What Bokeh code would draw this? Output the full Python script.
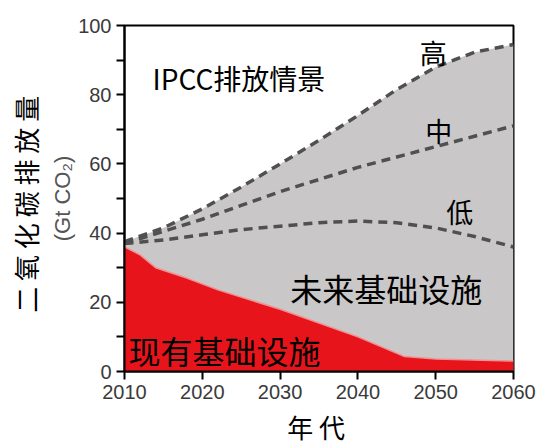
from bokeh.plotting import figure
from bokeh.models import LinearAxis, FixedTicker, Range1d
from bokeh.core.properties import value
from bokeh.embed import file_html
from bokeh.resources import INLINE

# IPCC emission scenarios (Gt CO2)
years = [2010, 2015, 2020, 2025, 2030, 2035, 2040, 2045, 2050, 2055, 2060]
high = [37.5, 41.5, 47, 53.3, 60, 66.8, 74, 81.5, 88, 92.3, 94.5]
mid = [37, 40.5, 44, 48, 52, 55.5, 59, 62, 65, 68, 71]
low = [37, 38, 39.5, 41, 42, 43, 43.5, 43, 41.5, 39, 36]

# committed emissions from existing infrastructure
existing_years = [2010, 2012, 2014, 2018, 2022, 2030, 2040, 2046, 2050, 2060]
existing = [36, 33.7, 30, 27, 23.6, 18, 10, 4.3, 3.6, 3]

x_ticks = [2010, 2020, 2030, 2040, 2050, 2060]
y_ticks = [0, 20, 40, 60, 80, 100]
y_minor = [10, 30, 50, 70, 90]

CJK = "Noto Sans CJK SC"
NUM = "Liberation Sans"
NBSP = "\u00a0"

p = figure(width=539, height=447, output_backend="svg", toolbar_location=None,
           x_range=Range1d(2010, 2060), y_range=Range1d(0, 100),
           min_border_left=124, min_border_right=26, min_border_top=25,
           min_border_bottom=75, background_fill_color="white",
           border_fill_color="white")
p.grid.visible = False
p.outline_line_color = "black"
p.outline_line_width = 2

# future infrastructure (grey) and existing infrastructure (red)
p.varea(x=years, y1=0, y2=high, fill_color="#c9c7c7")
p.varea(x=existing_years, y1=0, y2=existing, fill_color="#e8141c")
p.line(existing_years, existing, line_color="#f09090", line_width=1.5)

for series in (high, mid, low):
    p.line(years, series, line_color="#505050", line_width=3.5, line_dash="9 6")

def label(x, y, txt, size, align="center"):
    p.text(x=[x], y=[y], text=[txt], text_font=value(CJK), text_font_size=size,
           text_align=align, text_baseline="middle", text_color="black")

label(2013.6, 84.7, "IPCC排放情景", "28px", "left")
label(2049.7, 92.2, "高", "27px")
label(2050.4, 69.7, "中", "27px")
label(2053.1, 46.1, "低", "27px")
label(2031.3, 24.2, "未来基础设施", "32px", "left")
label(2010.5, 6.3, "现有基础设施", "32px", "left")

# axes
xa = p.xaxis[0]
xa.ticker = FixedTicker(ticks=x_ticks)
xa.axis_label = "年 代" + NBSP
xa.axis_label_text_font = CJK
xa.axis_label_text_font_size = "26px"
xa.axis_label_text_font_style = "normal"
xa.axis_label_text_color = "black"
xa.axis_label_standoff = 6

ya = p.yaxis[0]
ya.ticker = FixedTicker(ticks=y_ticks, minor_ticks=y_minor)
ya.axis_label = "(Gt CO₂)"
ya.axis_label_text_font = NUM
ya.axis_label_text_font_size = "22px"
ya.axis_label_text_font_style = "normal"
ya.axis_label_text_color = "#555555"
ya.axis_label_standoff = 0

for ax in (xa, ya):
    ax.axis_line_color = "black"
    ax.axis_line_width = 2
    ax.major_tick_line_color = "black"
    ax.major_tick_line_width = 2
    ax.major_tick_out = 8
    ax.major_tick_in = 0
    ax.minor_tick_line_color = "black"
    ax.minor_tick_line_width = 2
    ax.minor_tick_out = 8
    ax.minor_tick_in = 0
    ax.major_label_text_font = NUM
    ax.major_label_text_font_size = "20px"
    ax.major_label_text_color = "#3a3a3a"
    ax.major_label_standoff = 5

outer = LinearAxis(ticker=FixedTicker(ticks=[]),
                   axis_label="二 氧 化 碳 排 放 量" + NBSP * 2,
                   axis_line_color=None, major_tick_out=0, major_tick_in=0,
                   minor_tick_out=0, minor_tick_in=0,
                   major_label_text_font_size="0px")
outer.axis_label_text_font = CJK
outer.axis_label_text_font_size = "26px"
outer.axis_label_text_font_style = "normal"
outer.axis_label_text_color = "black"
outer.axis_label_standoff = 4
p.add_layout(outer, "left")

open("out.html", "w").write(file_html(p, INLINE))
